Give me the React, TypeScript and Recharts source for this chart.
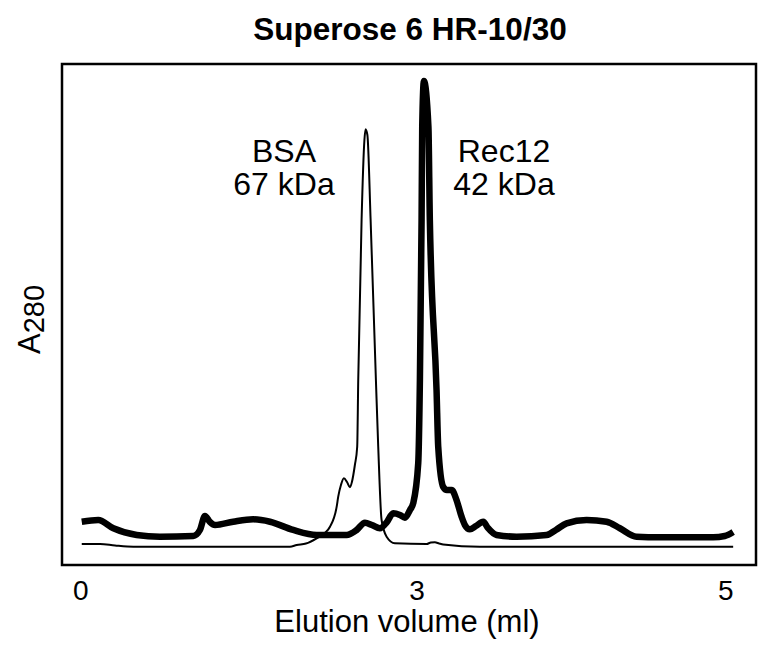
import React from 'react';
import { LineChart, Line, XAxis, YAxis, ReferenceArea } from 'recharts';

// Rec12 trace (thick)
const rec12Volume = [
  0.008, 0.136, 0.253, 0.434, 0.614, 0.872, 0.924, 0.963, 1.002, 1.041, 1.182, 1.337, 1.467,
  1.647, 1.829, 2.061, 2.139, 2.203, 2.257, 2.319, 2.373, 2.422, 2.474, 2.513, 2.552, 2.577,
  2.616, 2.629, 2.642, 2.647, 2.66, 2.695, 2.706, 2.758, 2.771, 2.81, 2.838, 2.875, 2.913,
  2.952, 2.978, 3.016, 3.063, 3.12, 3.156, 3.223, 3.378, 3.611, 3.683, 3.766, 3.921, 4.076,
  4.179, 4.308, 4.489, 4.902, 4.992, 5.057,
];
const rec12A280 = [
  8.64, 8.98, 7.33, 5.99, 5.65, 5.79, 6.99, 9.78, 8.58, 7.98, 8.64, 9.12, 8.64,
  6.99, 5.99, 5.99, 6.99, 8.44, 7.98, 7.33, 8.58, 10.32, 9.98, 9.44, 10.98, 12.32,
  20.3, 36.93, 68.86, 87.49, 96.6, 87.49, 68.86, 34.93, 23.61, 15.57, 14.97, 14.97, 12.97,
  9.64, 7.98, 7.13, 7.78, 8.64, 7.39, 5.99, 5.65, 5.99, 6.99, 8.32, 8.98, 8.64,
  7.33, 5.65, 5.53, 5.53, 5.79, 6.59,
];

// BSA trace (thin)
const bsaVolume = [
  0.008, 0.15, 0.266, 0.408, 1.622, 1.674, 1.746, 1.829, 1.893, 1.932, 1.984, 1.996, 2.017,
  2.04, 2.064, 2.087, 2.102, 2.125, 2.143, 2.151, 2.177, 2.199, 2.208, 2.222, 2.247, 2.288,
  2.306, 2.332, 2.371, 2.435, 2.681, 2.714, 2.745, 2.778, 2.81, 3.094, 5.057,
];
const bsaA280 = [
  4.19, 4.19, 3.89, 3.65, 3.65, 3.99, 4.29, 5.33, 6.39, 7.64, 11.64, 13.64, 15.97,
  17.31, 16.57, 15.51, 16.57, 19.96, 23.61, 36.93, 68.86, 84.83, 86.97, 85.83, 68.86, 36.93,
  23.61, 8.98, 5.65, 4.33, 4.19, 4.49, 4.53, 4.29, 4.09, 3.65, 3.65,
];

const xDomain = [-0.145, 5.234];
const yDomain = [0, 100];
const tickValues = [0, 2.606, 5];
const tickLabels = ['0', '3', '5'];

const rec12Data = rec12Volume.map((v, i) => ({ ml: v, a: rec12A280[i] }));
const bsaData = bsaVolume.map((v, i) => ({ ml: v, a: bsaA280[i] }));

const font = '"Liberation Sans", Arial, Helvetica, sans-serif';

const YLabel = ({ viewBox }: any) => {
  const x = 40;
  const y = viewBox.y + viewBox.height / 2 + 5;
  return (
    <text x={x} y={y} transform={`rotate(-90, ${x}, ${y})`} textAnchor="middle"
      fontFamily={font} fontSize={31} fill="#000">
      A<tspan fontSize={29} dy={4}>280</tspan>
    </text>
  );
};

const XLabel = () => (
  <text x={407} y={632} textAnchor="middle" fontFamily={font} fontSize={31} fill="#000">
    Elution volume (ml)
  </text>
);

const textStyle: React.CSSProperties = {
  position: 'absolute', fontFamily: font, fontSize: 32, lineHeight: '32px', height: 32,
  textAlign: 'center', color: '#000', width: 200, whiteSpace: 'nowrap',
};

export default function App() {
  return (
    <div style={{ position: 'absolute', left: 0, top: 0, width: 774, height: 655, background: '#fff' }}>
      <div style={{ ...textStyle, left: 0, top: 13, width: 820, fontSize: 31.5, fontWeight: 'bold' }}>
        Superose 6 HR-10/30
      </div>
      <div style={{ ...textStyle, left: 184, top: 135 }}>BSA</div>
      <div style={{ ...textStyle, left: 184, top: 168 }}>67 kDa</div>
      <div style={{ ...textStyle, left: 404, top: 135 }}>Rec12</div>
      <div style={{ ...textStyle, left: 404, top: 168 }}>42 kDa</div>
      <LineChart width={774} height={655} margin={{ top: 64, right: 18, bottom: 89, left: 61 }}>
        <XAxis type="number" dataKey="ml" domain={xDomain} ticks={tickValues} interval={0}
          tickFormatter={(v: number) => tickLabels[tickValues.indexOf(v)]}
          height={1} axisLine={false} tickLine={false} tickSize={6} tickMargin={9}
          tick={{ fill: '#000', fontSize: 28, fontFamily: font }}
          label={<XLabel />} allowDataOverflow />
        <YAxis type="number" domain={yDomain} width={1} tick={false} axisLine={false}
          tickLine={false} label={<YLabel />} allowDataOverflow />
        <ReferenceArea x1={xDomain[0]} x2={xDomain[1]} y1={yDomain[0]} y2={yDomain[1]}
          fill="none" stroke="#000" strokeWidth={2.5} fillOpacity={0} ifOverflow="visible" />
        <Line data={bsaData} dataKey="a" type="monotone" stroke="#000" strokeWidth={2}
          dot={false} activeDot={false} isAnimationActive={false} />
        <Line data={rec12Data} dataKey="a" type="monotone" stroke="#000" strokeWidth={6.5}
          dot={false} activeDot={false} isAnimationActive={false} />
      </LineChart>
    </div>
  );
}
